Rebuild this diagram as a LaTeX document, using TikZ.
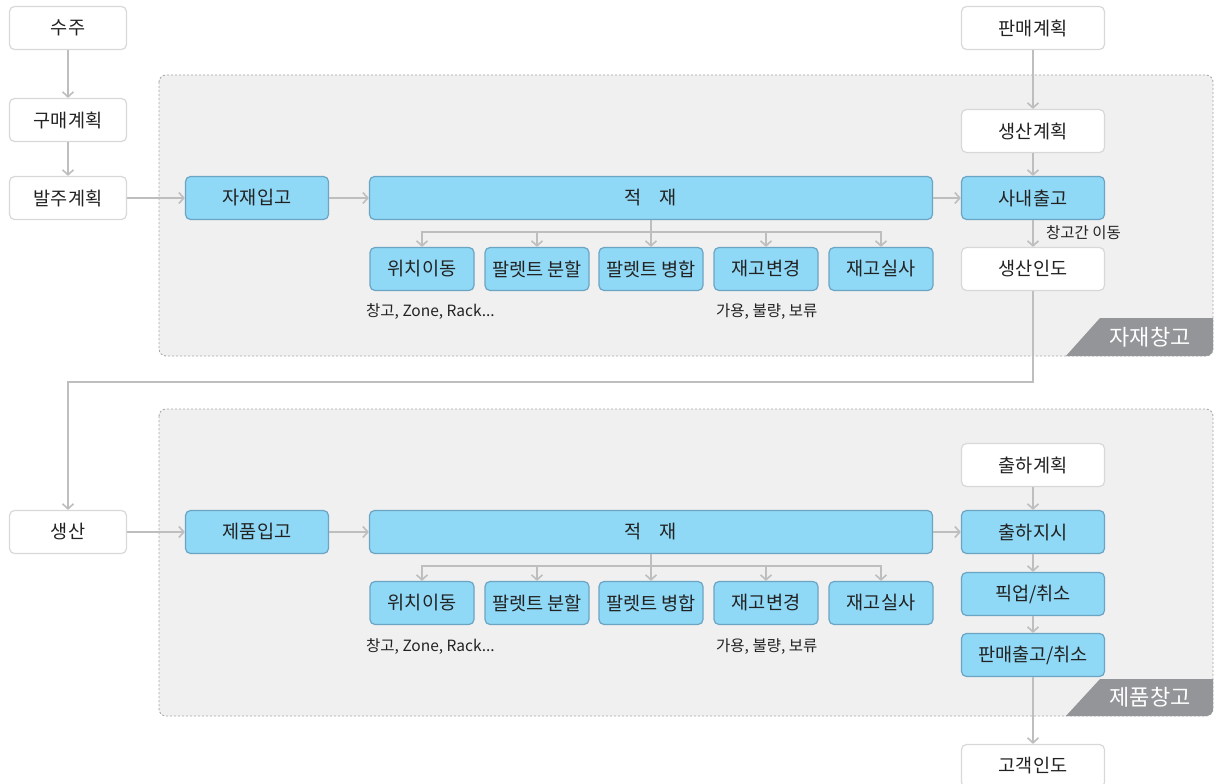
\documentclass[tikz,border=0pt]{standalone}
\usepackage{fontspec}
\newfontfamily\kr{Noto Sans CJK KR}
\usetikzlibrary{arrows.meta}
\definecolor{bluefill}{RGB}{143,216,246}
\definecolor{blueline}{RGB}{108,165,195}
\definecolor{wline}{RGB}{216,216,216}
\definecolor{panelfill}{RGB}{240,240,240}
\definecolor{paneldash}{RGB}{168,168,168}
\definecolor{arrowgray}{RGB}{190,190,190}
\definecolor{labelgray}{RGB}{147,149,152}
\definecolor{txt}{RGB}{34,34,34}
\begin{document}
\begin{tikzpicture}[x=1pt,y=-1pt,
  base/.style={rounded corners=5pt, line width=1.2pt, inner sep=0pt,
    font=\kr\fontsize{18.6}{22}\selectfont, text=txt, minimum height=43pt},
  lbox/.style={base, draw=wline, fill=white, minimum width=117pt},
  rbox/.style={base, draw=wline, fill=white, minimum width=143pt},
  bbox/.style={base, draw=blueline, fill=bluefill, minimum width=143pt},
  sbox/.style={base, draw=blueline, fill=bluefill, minimum width=104pt},
  wide/.style={base, draw=blueline, fill=bluefill, minimum width=563pt},
  panel/.style={fill=panelfill, draw=paneldash, line width=0.9pt, dash pattern=on 2pt off 2pt, rounded corners=7pt},
  tag/.style={font=\kr\fontsize{22}{26}\selectfont, text=white, inner sep=0pt},
  note/.style={font=\kr\fontsize{15.5}{18}\selectfont, text=txt, anchor=west, inner sep=0pt},
  plain/.style={draw=arrowgray, line width=1.6pt},
  conn/.style={plain, -{Straight Barb[length=5pt,width=11pt]}}]
\useasboundingbox (0,0) rectangle (1216,784);
\fill[white] (0,0) rectangle (1216,784);

% panels
\path[panel] (159,75) rectangle (1213,356);
\path[panel] (159,409) rectangle (1213,716);
\begin{scope}
  \clip[rounded corners=7pt] (159,75) rectangle (1213,356);
  \fill[labelgray] (1065,357) -- (1100,318) -- (1220,318) -- (1220,357) -- cycle;
\end{scope}
\begin{scope}
  \clip[rounded corners=7pt] (159,409) rectangle (1213,716);
  \fill[labelgray] (1065,717) -- (1100,679) -- (1220,679) -- (1220,717) -- cycle;
\end{scope}
\node[tag] (tag1) at (1150,337) {자재창고};
\node[tag] (tag2) at (1150,697) {제품창고};

% left column
\node[lbox] (suju) at (68,28) {수주};
\node[lbox] (gumae) at (68,120) {구매계획};
\node[lbox] (balju) at (68,198) {발주계획};
\node[lbox] (saengsan) at (68,532) {생산};

% upper warehouse
\node[bbox] (jaeib) at (257,198) {자재입고};
\node[wide] (jj1) at (651,198) {적\hspace{18pt}재};
\node[rbox] (panmae) at (1033,28) {판매계획};
\node[rbox] (saenggye) at (1033,131) {생산계획};
\node[bbox] (sanae) at (1033,198) {사내출고};
\node[rbox] (indo) at (1033,269) {생산인도};
\node[sbox] (a1) at (422,269) {위치이동};
\node[sbox] (a2) at (537,269) {팔렛트 분할};
\node[sbox] (a3) at (651,269) {팔렛트 병합};
\node[sbox] (a4) at (766,269) {재고변경};
\node[sbox] (a5) at (881,269) {재고실사};
\node[note] (n1) at (366,312) {창고, Zone, Rack...};
\node[note] (n2) at (716,312) {가용, 불량, 보류};
\node[note] (n3) at (1046,233) {창고간 이동};

% lower warehouse
\node[bbox] (jepum) at (257,532) {제품입고};
\node[wide] (jj2) at (651,532) {적\hspace{18pt}재};
\node[rbox] (chulgye) at (1033,465) {출하계획};
\node[bbox] (chulji) at (1033,532) {출하지시};
\node[bbox] (pick) at (1033,594) {픽업/취소};
\node[bbox] (sale) at (1033,655) {판매출고/취소};
\node[rbox] (cust) at (1033,766) {고객인도};
\node[sbox] (b1) at (422,603) {위치이동};
\node[sbox] (b2) at (537,603) {팔렛트 분할};
\node[sbox] (b3) at (651,603) {팔렛트 병합};
\node[sbox] (b4) at (766,603) {재고변경};
\node[sbox] (b5) at (881,603) {재고실사};
\node[note] (m1) at (366,647) {창고, Zone, Rack...};
\node[note] (m2) at (716,647) {가용, 불량, 보류};

% connectors
\draw[conn] (suju) -- (gumae);
\draw[conn] (gumae) -- (balju);
\draw[conn] (balju) -- (jaeib);
\draw[conn] (jaeib) -- (jj1);
\draw[conn] (jj1) -- (sanae);
\draw[conn] (panmae) -- (saenggye);
\draw[conn] (saenggye) -- (sanae);
\draw[conn] (sanae) -- (indo);
\coordinate (br1) at (651,232);
\draw[plain] (jj1.south) -- (br1);
\foreach \s in {a1,a2,a3,a4,a5} \draw[conn] (br1) -| (\s.north);
\coordinate (turn) at (550,382);
\draw[conn] (indo.south) |- (turn) -| (saengsan.north);

\draw[conn] (saengsan) -- (jepum);
\draw[conn] (jepum) -- (jj2);
\draw[conn] (jj2) -- (chulji);
\draw[conn] (chulgye) -- (chulji);
\draw[conn] (chulji) -- (pick);
\draw[conn] (pick) -- (sale);
\draw[conn] (sale) -- (cust);
\coordinate (br2) at (651,566);
\draw[plain] (jj2.south) -- (br2);
\foreach \s in {b1,b2,b3,b4,b5} \draw[conn] (br2) -| (\s.north);
\end{tikzpicture}
\end{document}
